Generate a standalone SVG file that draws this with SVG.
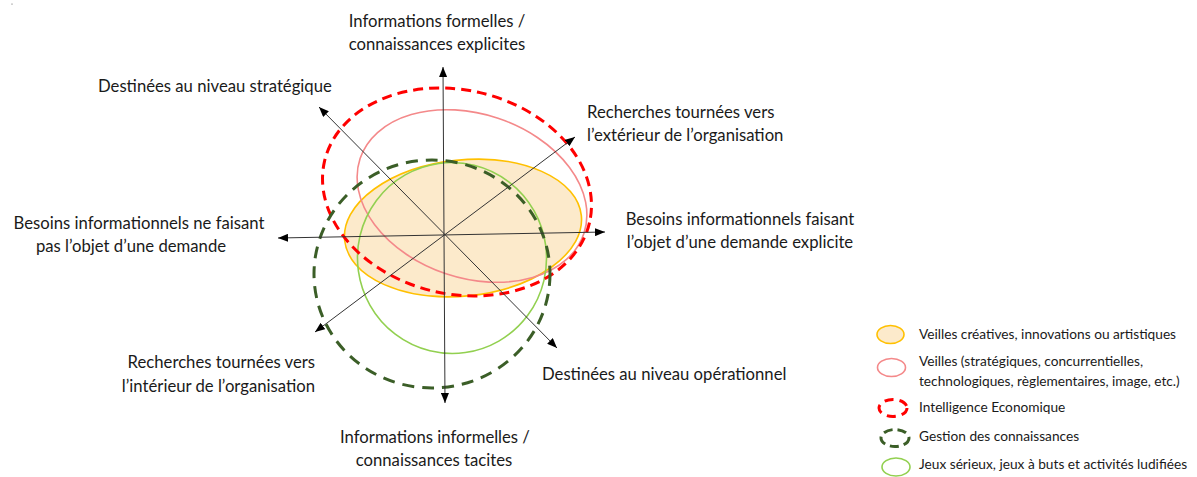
<svg xmlns="http://www.w3.org/2000/svg" width="1197" height="477" viewBox="0 0 1197 477">
<defs>
<marker id="arr" viewBox="0 0 10 8" refX="10" refY="4" markerWidth="10" markerHeight="8" markerUnits="userSpaceOnUse" orient="auto-start-reverse">
<path d="M0,0 L10,4 L0,8 z" fill="#000"/>
</marker>
<style>
text{font-family:Lato,"Open Sans","Liberation Sans",sans-serif;fill:#1a1a1a}
.lbl{font-size:16.7px}
.leg{font-size:13.7px}
.axis{stroke:#333;stroke-width:1;fill:none;marker-start:url(#arr);marker-end:url(#arr)}
.creative{fill:#FCEACB;stroke:#FFC000;stroke-width:1.6}
.veille{fill:none;stroke:#F4898A;stroke-width:1.6}
.ie{fill:none;stroke:#FF0000;stroke-width:3;stroke-dasharray:10 6}
.gc{fill:none;stroke:#3B5E27;stroke-width:3;stroke-dasharray:12 8}
.jeux{fill:none;stroke:#92D050;stroke-width:1.6}
.legie{fill:none;stroke:#FF0000;stroke-width:3;stroke-dasharray:9 6}
.leggc{fill:none;stroke:#3B5E27;stroke-width:3;stroke-dasharray:9 5}
</style>
</defs>
<rect width="1197" height="477" fill="#fff"/>
<circle cx="12" cy="4" r="0.6" fill="#555"/>

<g id="sets">
<g id="set-creative"><ellipse class="creative" cx="463" cy="228" rx="119" ry="68" transform="rotate(-6 463 228)"/></g>
<g id="set-veilles"><ellipse class="veille" cx="472" cy="196" rx="118" ry="82" transform="rotate(18.5 472 196)"/></g>
<g id="set-jeux"><ellipse class="jeux" cx="452" cy="258" rx="94.5" ry="95.5" transform="rotate(-8 452 258)"/></g>
<g id="set-ie"><ellipse class="ie" cx="457" cy="192" rx="136" ry="102" transform="rotate(13 457 192)"/></g>
<g id="set-gc"><ellipse class="gc" cx="432" cy="274" rx="118" ry="114"/></g>
</g>

<g id="connectors">
<line class="axis" x1="443" y1="67" x2="445" y2="403"/>
<line class="axis" x1="278" y1="238" x2="605" y2="232"/>
<line class="axis" x1="319" y1="107" x2="557" y2="348"/>
<line class="axis" x1="575" y1="137" x2="315" y2="332"/>
</g>

<g id="label-formelles"><text class="lbl" x="437" y="27" text-anchor="middle">Informations formelles /</text><text class="lbl" x="437" y="50" text-anchor="middle">connaissances explicites</text></g>
<g id="label-strategique"><text class="lbl" x="98" y="92">Destinées au niveau stratégique</text></g>
<g id="label-exterieur"><text class="lbl" x="587" y="118">Recherches tournées vers</text><text class="lbl" x="587" y="141">l’extérieur de l’organisation</text></g>
<g id="label-explicite"><text class="lbl" x="740" y="225" text-anchor="middle">Besoins informationnels faisant</text><text class="lbl" x="740" y="248" text-anchor="middle">l’objet d’une demande explicite</text></g>
<g id="label-nondemande"><text class="lbl" x="139" y="229" text-anchor="middle">Besoins informationnels ne faisant</text><text class="lbl" x="131" y="252" text-anchor="middle">pas l’objet d’une demande</text></g>
<g id="label-interieur"><text class="lbl" x="315" y="368" text-anchor="end">Recherches tournées vers</text><text class="lbl" x="315" y="392" text-anchor="end">l’intérieur de l’organisation</text></g>
<g id="label-operationnel"><text class="lbl" x="542" y="380">Destinées au niveau opérationnel</text></g>
<g id="label-informelles"><text class="lbl" x="435" y="443" text-anchor="middle">Informations informelles /</text><text class="lbl" x="434" y="466" text-anchor="middle">connaissances tacites</text></g>

<g id="legend">
<g id="legend-creative"><ellipse class="creative" cx="890.5" cy="334.5" rx="13.5" ry="9"/><text class="leg" x="919" y="339">Veilles créatives, innovations ou artistiques</text></g>
<g id="legend-veilles"><ellipse class="veille" cx="891.5" cy="367.5" rx="14" ry="9"/><text class="leg" x="919" y="366">Veilles (stratégiques, concurrentielles,</text><text class="leg" x="919" y="386">technologiques, règlementaires, image, etc.)</text></g>
<g id="legend-ie"><ellipse class="legie" cx="893" cy="408" rx="14" ry="8.5"/><text class="leg" x="919" y="412">Intelligence Economique</text></g>
<g id="legend-gc"><ellipse class="leggc" cx="895" cy="438" rx="14" ry="8.5"/><text class="leg" x="919" y="441">Gestion des connaissances</text></g>
<g id="legend-jeux"><ellipse class="jeux" cx="896" cy="467" rx="14" ry="9"/><text class="leg" x="919" y="469">Jeux sérieux, jeux à buts et activités ludifiées</text></g>
</g>
</svg>
